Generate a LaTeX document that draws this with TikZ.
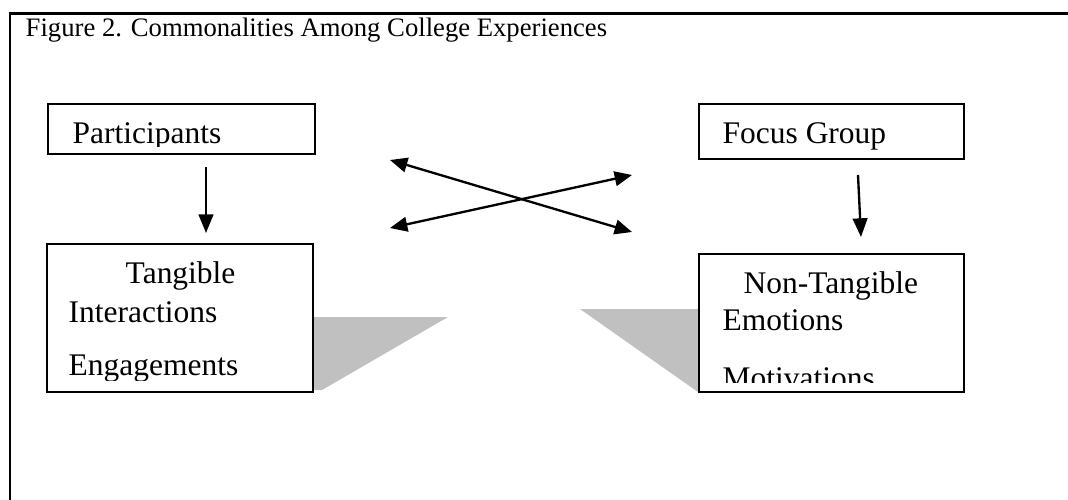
\documentclass[tikz,border=0pt]{standalone}
\usepackage{fontspec}
\setmainfont{Liberation Serif}
\usetikzlibrary{arrows.meta, fit, backgrounds}
\definecolor{cdrop}{HTML}{C0C0C0}
\tikzset{
  every picture/.style={x=0.75pt, y=-0.75pt, line width=1.1pt},
  box/.style={draw=black, fill=white, inner sep=0pt, line width=1.1pt},
  arrow/.style={-{Triangle[length=14pt, width=11pt]}, line width=1.75pt},
  twoway/.style={{Triangle[length=13pt, width=11pt]}-{Triangle[length=13pt, width=11pt]}, line width=1.75pt},
  title/.style={font=\fontsize{20}{24}\selectfont, anchor=base west, inner sep=0pt},
  entry/.style={font=\fontsize{23.6}{28}\selectfont, anchor=base west, inner sep=0pt},
  dropfill/.style={fill=cdrop, draw=none},
  frame/.style={line width=2.2pt},
}

\begin{document}
\begin{tikzpicture}
  \useasboundingbox (0,0) rectangle (1068,500);

  % frame and title
  \draw[frame] (1068,13.5) -- (10,13.5) -- (10,500);
  \node[title] (ttl) at (25,36) {Figure 2. Commonalities Among College Experiences};

  % boxes
  \node[box, fit={(48,104) (315,154)}] (part) {};
  \node[box, fit={(699,104) (964,159)}] (focus) {};
  \node[box, fit={(47,244) (313,392)}] (tang) {};
  \node[box, fit={(699,254) (964,392)}] (nontang) {};

  % texts, cut off at the bottom as in the original boxes
  \begin{scope}
    \clip (48,104) rectangle (315,146);
    \node[entry] (partlbl) at (72,143) {Participants};
  \end{scope}
  \node[entry] (focuslbl) at (722,143) {Focus Group};
  \begin{scope}
    \clip (47,244) rectangle (313,380);
    \node[entry] (tanghd)  at (125,283) {Tangible};
    \node[entry] (tangint) at (68,322)  {Interactions};
    \node[entry] (tangeng) at (68,375)  {Engagements};
  \end{scope}
  \begin{scope}
    \clip (699,254) rectangle (964,382);
    \node[entry] (nonhd)  at (743,293) {Non-Tangible};
    \node[entry] (nonemo) at (722,330) {Emotions};
    \node[entry] (nonmot) at (722,388) {Motivations};
  \end{scope}

  % grey drops behind the lower boxes
  \begin{scope}[on background layer]
    \fill[dropfill] (300,317) -- (448,317) -- (322,390) -- (300,390) -- cycle;
    \fill[dropfill] (580,309) -- (710,309) -- (710,392) -- (698,392) -- cycle;
  \end{scope}

  % arrows
  \coordinate (partout)  at (206,167);
  \coordinate (tangin)   at (206,233);
  \coordinate (focusout) at (858,175);
  \coordinate (nonin)    at (861,237);
  \coordinate (crossnw)  at (390,160);
  \coordinate (crossse)  at (632,232);
  \coordinate (crosssw)  at (390,228);
  \coordinate (crossne)  at (632,175);
  \draw[arrow]  (partout) -- (tangin);
  \draw[arrow]  (focusout) -- (nonin);
  \draw[twoway] (crossnw) -- (crossse);
  \draw[twoway] (crosssw) -- (crossne);
\end{tikzpicture}
\end{document}
